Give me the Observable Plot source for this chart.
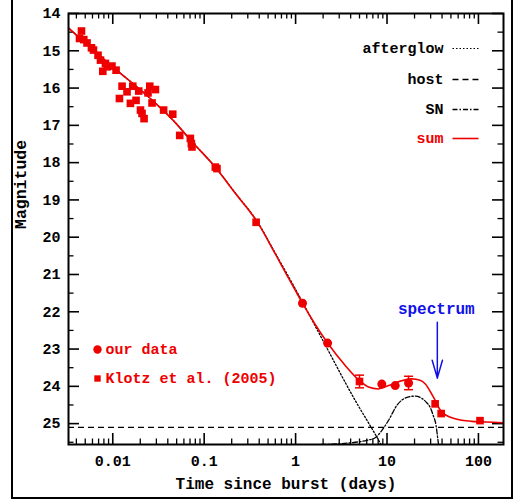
<!DOCTYPE html>
<html><head><meta charset="utf-8">
<script src="https://cdn.jsdelivr.net/npm/d3@7"></script>
<script src="https://cdn.jsdelivr.net/npm/@observablehq/plot@0.6"></script>
<style>
body{margin:0;background:#fff}
#wrap{position:relative;width:515px;height:501px;overflow:hidden;background:#fff}
#border{position:absolute;left:11px;top:-3px;width:502px;height:502px;border:2px solid #000;box-sizing:border-box;pointer-events:none}
#wrap svg{position:absolute;left:0;top:0}
</style></head><body><div id="wrap"><div id="border"></div></div>
<script>
// ---- data ----
const klotzT   = [0.00455,0.00433,0.00482,0.00523,0.00585,0.00615,0.0069,0.00734,0.00832,0.00778,0.00867,0.0098,0.01087,0.01264,0.01183,0.01432,0.01655,0.01924,0.0156,0.01798,0.0201,0.0209,0.022,0.0243,0.0254,0.0293,0.0269,0.036,0.0453,0.054,0.0706,0.0724,0.0736,0.1324,0.138,0.37,5.0,33.6,39.1,104];
const klotzMag = [14.47,14.67,14.70,14.79,14.92,14.98,15.12,15.25,15.34,15.55,15.43,15.41,15.52,15.95,16.28,16.10,15.95,16.08,16.41,16.33,16.59,16.68,16.82,16.13,15.95,16.04,16.40,16.59,16.70,17.27,17.35,17.49,17.58,18.12,18.16,19.60,23.87,24.47,24.73,24.92];
const klotzErr = [0,0,0,0,0,0,0,0,0,0,0,0,0,0,0,0,0,0,0,0,0,0,0,0,0,0,0,0,0,0,0,0,0,0,0,0,0.17,0,0,0];

const oursT   = [1.19,2.24,8.77,12.3,17.2];
const oursMag = [21.77,22.84,23.94,23.98,23.91];
const oursErr = [0,0,0,0,0.18];

const sumT   = [0.00328,0.006,0.01,0.0247,0.0464,0.0724,0.132,0.22,0.385,0.6,0.99,1.19,1.6,2.24,3.49,4.97,6.28,8.0,10.4,14,18.7,23,26.1,32.2,39.7,55.6,84.5,165,188];
const sumMag = [14.39,14.96,15.43,16.24,16.88,17.42,18.12,18.83,19.61,20.45,21.42,21.77,22.3,22.84,23.44,23.84,24.02,24.07,23.98,23.86,23.80,23.84,23.93,24.29,24.69,24.87,24.94,24.97,24.98];

const afterT   = [0.00328,0.01,0.0247,0.0464,0.0724,0.132,0.22,0.385,0.6,0.99,1.94,4.49,7.74,8.6];
const afterMag = [14.39,15.43,16.24,16.88,17.42,18.12,18.82,19.60,20.43,21.38,22.72,24.38,25.36,25.56];

const snT   = [1.9,3,4.5,6,7.5,8.8,10.4,13,16,20.3,24,27.2,29.6,32,34.4,35.9,36.6];
const snMag = [25.56,25.54,25.5,25.45,25.37,25.18,24.91,24.49,24.31,24.26,24.32,24.44,24.56,24.78,25.05,25.4,25.56];

const hostMag = 25.1;

const spectrumT = [35.5];
const spectrumFrom = [22.28];
const spectrumTo = [23.78];

const xTickLabels = [0.01, 0.1, 1, 10, 100];
const yTickLabels = [14,15,16,17,18,19,20,21,22,23,24,25];
const legendNames = ["afterglow","host","SN","sum"];
const pointLegend = ["our data","Klotz et al. (2005)"];

// ---- build tables ----
const xDomain = [0.00328, 188];
const yDomain = [14, 25.56];
const klotz = klotzT.map((t,i)=>({t, m: klotzMag[i], e: klotzErr[i]}));
const ours = oursT.map((t,i)=>({t, m: oursMag[i], e: oursErr[i]}));
const errs = klotz.concat(ours).filter(d=>d.e>0);
const sum = sumT.map((t,i)=>({t, m: sumMag[i]}));
const after = afterT.map((t,i)=>({t, m: afterMag[i]}));
const sn = snT.map((t,i)=>({t, m: snMag[i]}));
const spec = spectrumT.map((t,i)=>({t, m1: spectrumFrom[i], m2: spectrumTo[i]}));

const xMinor = [];
for (let e=-3;e<=2;e++) for (let k=2;k<=9;k++){const v=k*Math.pow(10,e); if(v>=xDomain[0]&&v<=xDomain[1]) xMinor.push(v);}
const yMinor = yTickLabels.map(v=>v+0.5).filter(v=>v<yDomain[1]);

const W=515,H=501,mL=68,mR=12,mT=13,mB=57;
const pW=W-mL-mR, pH=H-mT-mB;
const RED="#ee0000", BLUE="#1010e8";
const font="Liberation Mono";
const major=11, minor=5.5;

const lineSym = {draw(ctx){ctx.moveTo(-13,0);ctx.lineTo(13,0);}};
const capSym = {draw(ctx){ctx.moveTo(-4.5,0);ctx.lineTo(4.5,0);}};

// legend styling (top right): row offsets from the frame top, and sample styles
const legRowDy = [35, 66, 96, 125];
const legStyle = {
  afterglow: {stroke: "black", dash: "1.5,2", w: 1.2},
  host: {stroke: "black", dash: "6,4", w: 1.4},
  SN: {stroke: "black", dash: "5,2,1.5,2", w: 1.3},
  sum: {stroke: RED, dash: null, w: 1.6}
};
const legendMarks = legendNames.flatMap((name, i) => [
  Plot.text([name], {frameAnchor: "top-right", text: d=>d, dx: -60, dy: legRowDy[i], textAnchor: "end", lineAnchor: "middle",
    fill: name==="sum" ? RED : "black", fontSize: 15}),
  Plot.dot([name], {frameAnchor: "top-right", dx: -38, dy: legRowDy[i], symbol: lineSym,
    stroke: legStyle[name].stroke, strokeWidth: legStyle[name].w, strokeDasharray: legStyle[name].dash, fill: "none"})
]);
const ptRowDy = [336, 365];
const ptSymbols = ["circle", "square"];
const ptR = [4.2, 3.6];
const pointLegendMarks = pointLegend.flatMap((name, i) => [
  Plot.dot([name], {frameAnchor: "top-left", dx: 29, dy: ptRowDy[i], symbol: ptSymbols[i], r: ptR[i], fill: RED, stroke: null}),
  Plot.text([name], {frameAnchor: "top-left", text: d=>d, dx: 37, dy: ptRowDy[i], textAnchor: "start", lineAnchor: "middle", fill: RED, fontSize: 15})
]);

const chart = Plot.plot({
  width: W, height: H,
  marginLeft: mL, marginRight: mR, marginTop: mT, marginBottom: mB,
  style: {fontFamily: font, fontSize: "15px", fontWeight: "bold", background: "transparent"},
  x: {type: "log", domain: xDomain, axis: null},
  y: {domain: yDomain, reverse: true, axis: null},
  marks: [
    // tick labels
    Plot.axisX({ticks: xTickLabels, tickFormat: d=>String(d), tickSize: 0, tickPadding: 11, fontSize: 15, label: null}),
    Plot.axisY({ticks: yTickLabels, tickSize: 0, tickPadding: 8, fontSize: 15, label: null}),
    // inward ticks on all four sides
    Plot.tickX(xTickLabels, {x: d=>d, insetTop: pH-major, strokeWidth: 1.6}),
    Plot.tickX(xMinor, {x: d=>d, insetTop: pH-minor, strokeWidth: 1.3}),
    Plot.tickX(xTickLabels, {x: d=>d, insetBottom: pH-major, strokeWidth: 1.6}),
    Plot.tickX(xMinor, {x: d=>d, insetBottom: pH-minor, strokeWidth: 1.3}),
    Plot.tickY(yTickLabels, {y: d=>d, insetRight: pW-major, strokeWidth: 1.6}),
    Plot.tickY(yMinor, {y: d=>d, insetRight: pW-minor, strokeWidth: 1.3}),
    Plot.tickY(yTickLabels, {y: d=>d, insetLeft: pW-major, strokeWidth: 1.6}),
    Plot.tickY(yMinor, {y: d=>d, insetLeft: pW-minor, strokeWidth: 1.3}),
    // model curves
    Plot.ruleY([hostMag], {stroke: "black", strokeWidth: 1.4, strokeDasharray: "6,4"}),
    Plot.line(after, {x: "t", y: "m", stroke: "black", strokeWidth: 1.3, strokeDasharray: "1.5,2", curve: "monotone-x", clip: true}),
    Plot.line(sn, {x: "t", y: "m", stroke: "black", strokeWidth: 1.3, strokeDasharray: "5,2,1.5,2", curve: "monotone-x", clip: true}),
    Plot.line(sum, {x: "t", y: "m", stroke: RED, strokeWidth: 1.6, curve: "monotone-x", clip: true}),
    // error bars
    Plot.ruleX(errs, {x: "t", y1: d=>d.m-d.e, y2: d=>d.m+d.e, stroke: RED, strokeWidth: 1.5}),
    Plot.dot(errs, {x: "t", y: d=>d.m-d.e, symbol: capSym, stroke: RED, strokeWidth: 1.5}),
    Plot.dot(errs, {x: "t", y: d=>d.m+d.e, symbol: capSym, stroke: RED, strokeWidth: 1.5}),
    // data points
    Plot.dot(klotz, {x: "t", y: "m", symbol: "square", r: 4.3, fill: RED, stroke: null}),
    Plot.dot(ours, {x: "t", y: "m", symbol: "circle", r: 4.5, fill: RED, stroke: null}),
    // spectrum annotation
    Plot.arrow(spec, {x: "t", y1: "m1", y2: "m2", stroke: BLUE, strokeWidth: 1.5, headLength: 22, headAngle: 32}),
    Plot.text(spec, {x: "t", y: "m1", text: ()=>"spectrum", fill: BLUE, fontSize: 16, dy: -13, dx: -1}),
    ...legendMarks,
    ...pointLegendMarks,
    // frame
    Plot.frame({stroke: "black", strokeWidth: 2}),
    // axis titles
    Plot.text(["Time since burst (days)"], {frameAnchor: "bottom", dy: 39, lineAnchor: "middle", fontSize: 16}),
    Plot.text(["Magnitude"], {frameAnchor: "left", dx: -48, rotate: -90, fontSize: 16.5})
  ]
});
document.getElementById("wrap").appendChild(chart);
</script>
</body></html>
